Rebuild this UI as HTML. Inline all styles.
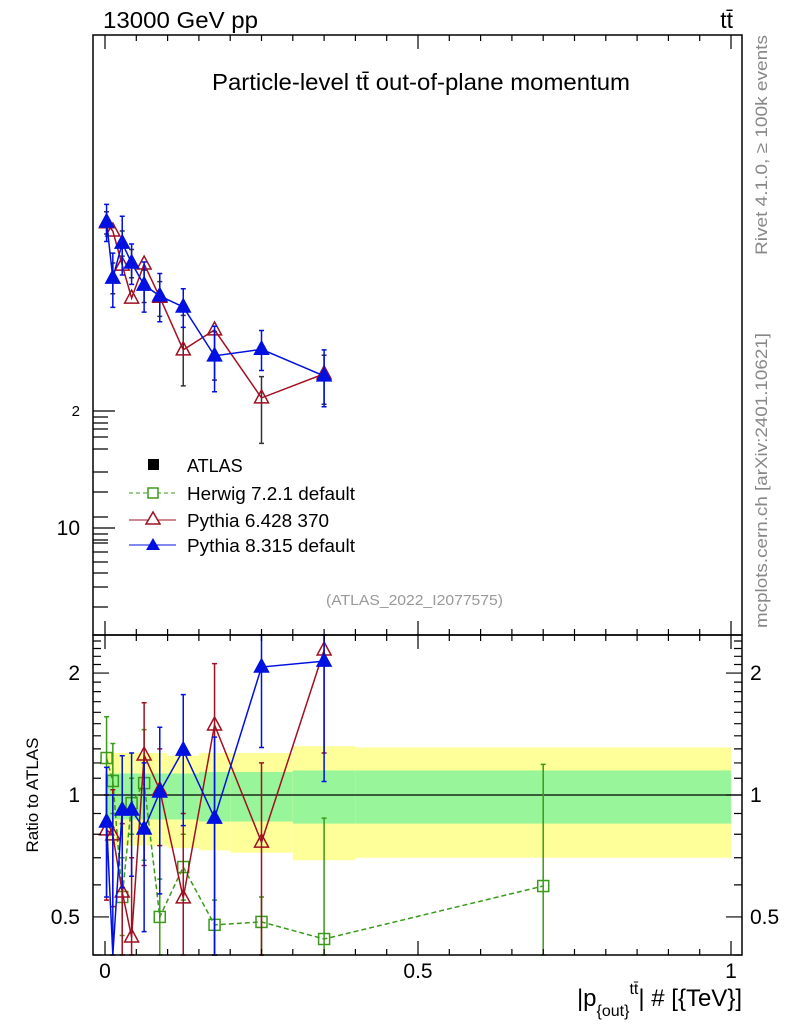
<!DOCTYPE html>
<html><head><meta charset="utf-8"><style>
body{margin:0;background:#fff}
svg{display:block;font-family:"Liberation Sans",sans-serif}
</style></head><body>
<svg id="c" width="786" height="1024" viewBox="0 0 786 1024">
<text x="103" y="28" font-size="23" textLength="155" lengthAdjust="spacingAndGlyphs">13000 GeV pp</text>
<text x="733" y="28" font-size="23" text-anchor="end">tt̄</text>
<text x="212" y="90" font-size="23" textLength="418" lengthAdjust="spacingAndGlyphs">Particle-level tt̄ out-of-plane momentum</text>
<text x="326" y="605" font-size="15" fill="#999" textLength="177" lengthAdjust="spacingAndGlyphs">(ATLAS_2022_I2077575)</text>
<text transform="translate(767,255) rotate(-90)" font-size="17" fill="#888" textLength="220" lengthAdjust="spacingAndGlyphs">Rivet 4.1.0, ≥ 100k events</text>
<text transform="translate(767,628) rotate(-90)" font-size="17" fill="#888" textLength="295" lengthAdjust="spacingAndGlyphs">mcplots.cern.ch [arXiv:2401.10621]</text>
<text transform="translate(38,795) rotate(-90)" font-size="17" text-anchor="middle">Ratio to ATLAS</text>
<text x="742" y="1006" font-size="24" text-anchor="end">|p<tspan font-size="16" dy="10">{out}</tspan><tspan font-size="16" dy="-22">tt̄</tspan><tspan dy="12">| # [{TeV}]</tspan></text>
<g id="ratioBands"></g>
<g id="marks"></g>
<g id="axes"></g>
<g font-size="18">
<rect x="148" y="459" width="11" height="11" fill="#000"/>
<text x="187" y="472">ATLAS</text>
<line x1="129" y1="493" x2="176" y2="493" stroke="#3a9a1a" stroke-dasharray="4,3"/>
<rect x="148" y="488" width="10" height="10" fill="#fff" stroke="#3a9a1a" stroke-width="1.5"/>
<text x="187" y="500" textLength="168" lengthAdjust="spacingAndGlyphs">Herwig 7.2.1 default</text>
<line x1="129" y1="520" x2="176" y2="520" stroke="#a01020"/>
<polygon points="153,512 160,524 146,524" fill="#fff" stroke="#a01020" stroke-width="1.5"/>
<text x="187" y="527" textLength="142" lengthAdjust="spacingAndGlyphs">Pythia 6.428 370</text>
<line x1="129" y1="545" x2="176" y2="545" stroke="#0010e0"/>
<polygon points="153,538 160,550 146,550" fill="#0010e0"/>
<text x="187" y="552" textLength="168" lengthAdjust="spacingAndGlyphs">Pythia 8.315 default</text>
</g>
</svg>
<script>
const xCenters=[0.0025,0.0125,0.0275,0.0425,0.0625,0.0875,0.125,0.175,0.25,0.35,0.7];
const atlasVal=[61,44,54,48,42,39,29.2,28,20.5,24.3];
const atlasErr=[4,4,4,4,4,4,6,4,4,3.5];
const py8Val=[61.2,43.9,54.0,48.0,42.1,39.5,37.0,27.7,28.8,24.6];
const py8Err=[6.7,7.0,9.3,5.7,6.2,5.6,4.2,5.3,3.4,4.1];
const py6Val=[60.9,58.0,47.4,39.0,47.7,39.2,28.7,32.3,21.6,24.9];
const py8Ratio=[0.858,0.3,0.918,0.918,0.824,1.017,1.291,0.877,2.07,2.14];
const py8RLo=[0.56,0.2,0.59,0.63,0.46,0.57,0.84,0.2,1.31,1.08];
const py8RHi=[1.17,1.0,1.25,1.27,1.2,1.47,1.77,1.39,3,3];
const py6Ratio=[0.82,0.797,0.576,0.446,1.255,1.029,0.557,1.489,0.765,2.28];
const py6RLo=[0.55,0.53,0.3,0.2,0.67,0.75,0.2,0.2,0.2,1.27];
const py6RHi=[1.0,1.03,0.85,0.7,1.69,1.3,0.9,2.11,1.2,3];
const hwRatio=[1.234,1.083,0.56,0.955,1.07,0.50,0.664,0.478,0.486,0.441,0.596];
const hwRLo=[1.0,0.9,0.45,0.8,0.69,0.2,0.55,0.4,0.4,0.2,0.2];
const hwRHi=[1.56,1.34,0.7,1.1,1.45,0.62,0.8,0.55,0.56,0.877,1.19];
const bandEdges=[0,0.1,0.15,0.2,0.3,0.4,1.0];
const totHi=[1.27,1.25,1.27,1.27,1.32,1.31];
const totLo=[0.75,0.74,0.73,0.72,0.69,0.70];
const statHi=[1.13,1.13,1.14,1.14,1.15,1.15];
const statLo=[0.87,0.87,0.86,0.86,0.85,0.85];
const xTickLabels=["0","0.5","1"];
const ratioTickLabels=["0.5","1","2"];

const NS="http://www.w3.org/2000/svg";
const X=v=>105+v*626;
const YM=v=>528-(Math.log10(v)-1)*389;
const YR=r=>Math.min(955,Math.max(635,795-Math.log10(r)*405));
function mk(p,t,a){const e=document.createElementNS(NS,t);for(const k in a)e.setAttribute(k,a[k]);p.appendChild(e);return e;}
const bands=document.getElementById('ratioBands'),marks=document.getElementById('marks'),axes=document.getElementById('axes');
for(let i=0;i<totHi.length;i++){
 let r=mk(bands,'rect',{x:X(bandEdges[i]),width:X(bandEdges[i+1])-X(bandEdges[i]),y:YR(totHi[i]),height:YR(totLo[i])-YR(totHi[i]),fill:'#ffff99'});
 
 
 let g=mk(bands,'rect',{x:X(bandEdges[i]),width:X(bandEdges[i+1])-X(bandEdges[i]),y:YR(statHi[i]),height:YR(statLo[i])-YR(statHi[i]),fill:'#99f599'});
 
 
}
let one=mk(bands,'line',{x1:93,x2:742,y1:YR(1),y2:YR(1),stroke:'#000','stroke-width':1.2});


function ebar(x,y1,y2,c){
 let l=mk(marks,'path',{d:`M${x},${y1}V${y2}M${x-2.5},${y1}H${x+2.5}M${x-2.5},${y2}H${x+2.5}`,stroke:c,'stroke-width':1.5,fill:'none'});
 
 
}
function line(pts,c,dash,name){
 let p=mk(marks,'polyline',{points:pts.map(q=>q.join(',')).join(' '),fill:'none',stroke:c,'stroke-width':1.5});
 if(dash)p.setAttribute('stroke-dasharray',dash);
 
 
}
function tri(x,y,filled,c,name){
 let t=mk(marks,'polygon',{points:`${x},${y-8} ${x+7},${y+5} ${x-7},${y+5}`,fill:filled?c:'none',stroke:c,'stroke-width':1.5});
 
 
}
function sq(x,y,c,name){
 let s=mk(marks,'rect',{x:x-5.5,y:y-5.5,width:11,height:11,fill:'none',stroke:c,'stroke-width':1.5});
 
 
}
const clip=(y)=>y>=635&&y<=955;
atlasVal.forEach((v,i)=>ebar(X(xCenters[i]),YM(v+atlasErr[i]),YM(v-atlasErr[i]),'#333'));
line(py6Val.map((v,i)=>[X(xCenters[i]),YM(v)]),'#a01020',null,'py6-main-line');
py6Val.forEach((v,i)=>tri(X(xCenters[i]),YM(v),false,'#a01020','py6-main-point'));
py8Val.forEach((v,i)=>ebar(X(xCenters[i]),YM(v+py8Err[i]),YM(v-py8Err[i]),'#0010e0'));
line(py8Val.map((v,i)=>[X(xCenters[i]),YM(v)]),'#0010e0',null,'py8-main-line');
py8Val.forEach((v,i)=>tri(X(xCenters[i]),YM(v),true,'#0010e0','py8-main-point'));
hwRatio.forEach((v,i)=>ebar(X(xCenters[i]),YR(hwRHi[i]),YR(hwRLo[i]),'#3a9a1a'));
line(hwRatio.map((v,i)=>[X(xCenters[i]),YR(v)]),'#3a9a1a','5,3','herwig-ratio-line');
hwRatio.forEach((v,i)=>{if(clip(YR(v)))sq(X(xCenters[i]),YR(v),'#3a9a1a','herwig-ratio-point');});
py6Ratio.forEach((v,i)=>ebar(X(xCenters[i]),YR(py6RHi[i]),YR(py6RLo[i]),'#a01020'));
line(py6Ratio.map((v,i)=>[X(xCenters[i]),YR(v)]),'#a01020',null,'py6-ratio-line');
py6Ratio.forEach((v,i)=>tri(X(xCenters[i]),YR(v),false,'#a01020','py6-ratio-point'));
py8Ratio.forEach((v,i)=>ebar(X(xCenters[i]),YR(py8RHi[i]),YR(py8RLo[i]),'#0010e0'));
line(py8Ratio.map((v,i)=>[X(xCenters[i]),YR(v)]),'#0010e0',null,'py8-ratio-line');
py8Ratio.forEach((v,i)=>{if(YR(v)<955)tri(X(xCenters[i]),YR(v),true,'#0010e0','py8-ratio-point');});
let f1=mk(axes,'rect',{x:93,y:35,width:649,height:600,fill:'none',stroke:'#000','stroke-width':1.5});


let f2=mk(axes,'rect',{x:93,y:635,width:649,height:320,fill:'none',stroke:'#000','stroke-width':1.5});


let d='';
for(let k=0;k<=20;k++){const x=X(k*0.05),L=(k%10==0)?14:6;
 d+=`M${x},955V${955-L}M${x},635V${635-L}M${x},635V${635+L}M${x},35V${35+L}`;}
[411,528].forEach(y=>{d+=`M93,${y}H115`;});
[417,423,429,437,449,472,492,517,534,540,543,552,562,573,587,607].forEach(y=>{d+=`M93,${y}H108`;});
for(let k=4;k<=24;k++){const r=k/10,y=YR(r),L=(k==5||k==10||k==20)?16:8;d+=`M93,${y}H${93+L}M742,${y}H${742-L}`;}
let tk=mk(axes,'path',{d:d,stroke:'#000','stroke-width':1.2,fill:'none'});


[0,0.5,1].forEach((v,i)=>{let t=mk(axes,'text',{x:X(v),y:978,'font-size':21,'text-anchor':'middle'});t.textContent=xTickLabels[i];
 
 });
[0.5,1,2].forEach((v,i)=>{
 let t=mk(axes,'text',{x:80,y:YR(v)+7,'font-size':21,'text-anchor':'end'});t.textContent=ratioTickLabels[i];
 
 
 let t2=mk(axes,'text',{x:750,y:YR(v)+7,'font-size':21});t2.textContent=ratioTickLabels[i];
 
 });
let m1=mk(axes,'text',{x:80,y:416,'font-size':15,'text-anchor':'end'});m1.textContent='2';


let m2=mk(axes,'text',{x:80,y:535,'font-size':21,'text-anchor':'end'});m2.textContent='10';


</script>
</body></html>
